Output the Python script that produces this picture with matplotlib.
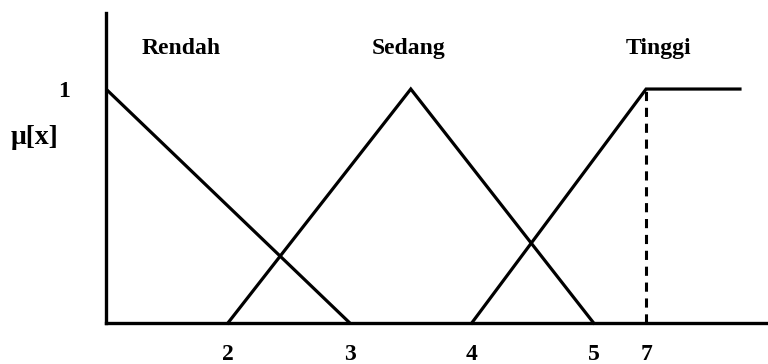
import matplotlib
matplotlib.use("Agg")
import matplotlib.pyplot as plt

# Data
rendah_x = [1.0, 3.0]
rendah_y = [1.0, 0.0]
sedang_x = [2.0, 3.5, 5.0]
sedang_y = [0.0, 1.0, 0.0]
tinggi_x = [4.0, 5.43, 6.2]
tinggi_y = [0.0, 1.0, 1.0]
dash_x = [5.43, 5.43]
dash_y = [0.0, 1.0]
tick_pos = [2.0, 3.0, 4.0, 5.0, 5.43]
tick_labels = ["2", "3", "4", "5", "7"]
set_names = ["Rendah", "Sedang", "Tinggi"]
set_label_x = [1.62, 3.48, 5.53]

serif = ["Liberation Serif", "DejaVu Serif"]

fig = plt.figure(figsize=(7.68, 3.64), dpi=100)
W, H = 768, 364
ax = fig.add_axes([106 / W, 41 / H, (W - 106) / W, 310 / H])
ax.set_xlim(1.0, 6.43)
ax.set_ylim(0, 1.325)

lw = 2.3
ax.plot(rendah_x, rendah_y, color="black", lw=lw, solid_capstyle="butt", clip_on=False)
ax.plot(sedang_x, sedang_y, color="black", lw=lw, solid_joinstyle="miter", clip_on=False)
ax.plot(tinggi_x, tinggi_y, color="black", lw=lw, solid_joinstyle="miter", clip_on=False)
ax.plot(dash_x, dash_y, color="black", lw=2.2, linestyle=(0, (3.0, 2.2)), clip_on=False)

for s in ["top", "right"]:
    ax.spines[s].set_visible(False)
for s in ["left", "bottom"]:
    ax.spines[s].set_linewidth(2.4)

ax.set_xticks(tick_pos)
ax.set_xticklabels(tick_labels, fontfamily=serif, fontweight="bold", fontsize=17)
ax.tick_params(axis="x", length=0, pad=15)
ax.set_yticks([1.0])
ax.set_yticklabels(["1"], fontfamily=serif, fontweight="bold", fontsize=17)
ax.tick_params(axis="y", length=0, pad=26)

for name, xx in zip(set_names, set_label_x):
    ax.text(xx, 1.175, name, ha="center", va="center", fontfamily=serif,
            fontweight="bold", fontsize=17)

fig.text(35 / W, 1 - 138 / H, "μ[x]", ha="center", va="center", fontfamily=serif,
         fontweight="bold", fontsize=20)

fig.savefig("out.png", dpi=100)
